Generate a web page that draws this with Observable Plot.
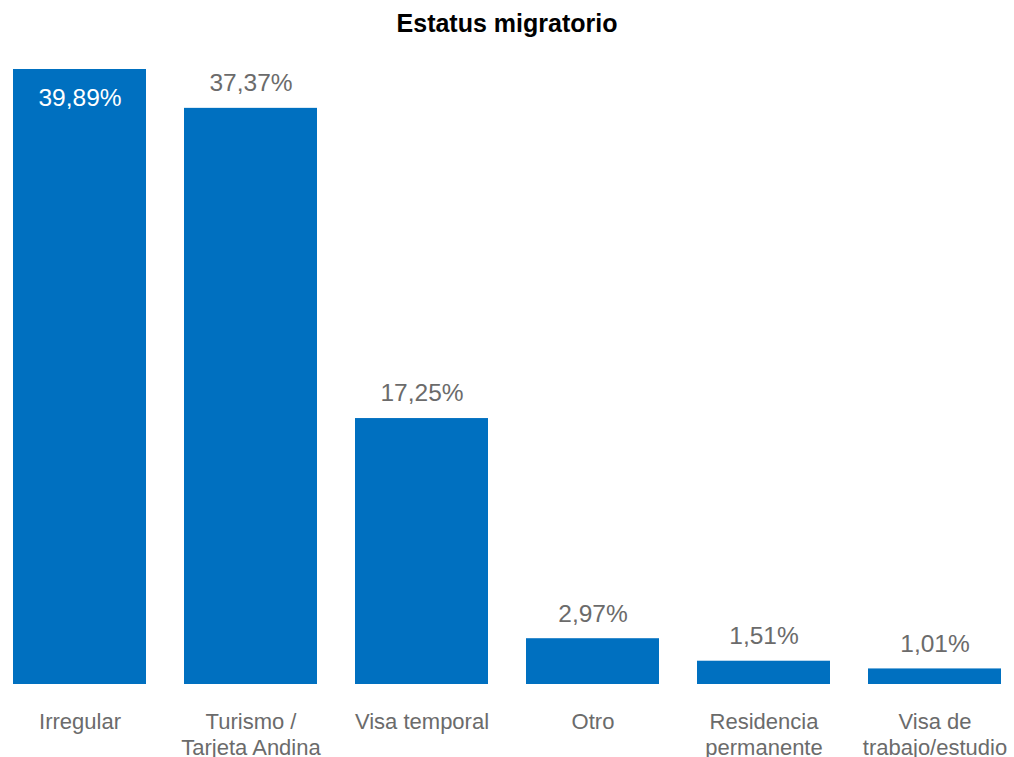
<!DOCTYPE html>
<html>
<head>
<meta charset="utf-8">
<script src="https://cdn.jsdelivr.net/npm/d3@7"></script>
<script src="https://cdn.jsdelivr.net/npm/@observablehq/plot@0.6"></script>
<style>
  html, body { margin: 0; padding: 0; background: #fff; }
  #title { height: 44px; line-height: 46px; text-align: center; font-family: "Liberation Sans", Arial, sans-serif; font-weight: bold; font-size: 25px; color: #000; width: 1014px; }
</style>
</head>
<body>
<div id="title">Estatus migratorio</div>
<div id="chart"></div>
<script>
const categories = ["Irregular", "Turismo /\nTarjeta Andina", "Visa temporal", "Otro", "Residencia\npermanente", "Visa de\ntrabajo/estudio"];
const values = [39.89, 37.37, 17.25, 2.97, 1.51, 1.01];
const valueLabels = ["39,89%", "37,37%", "17,25%", "2,97%", "1,51%", "1,01%"];

const data = categories.map((c, i) => ({category: c, value: values[i], label: valueLabels[i], inside: i === 0}));

const chart = Plot.plot({
  width: 1014,
  height: 713,
  marginTop: 25,
  marginBottom: 73,
  marginLeft: 0,
  marginRight: 0,
  style: {fontFamily: "'Liberation Sans', Arial, sans-serif", background: "#fff"},
  x: {domain: categories, paddingInner: 0.224, paddingOuter: 0.07, axis: null},
  y: {domain: [0, 39.89], axis: null},
  marks: [
    Plot.barY(data, {x: "category", y: "value", fill: "#0070c0"}),
    Plot.text(data.filter(d => !d.inside), {x: "category", y: "value", text: "label", dy: -25, fill: "#6b6b6b", fontSize: 24.5}),
    Plot.text(data.filter(d => d.inside), {x: "category", y: "value", text: "label", dy: 29, fill: "#ffffff", fontSize: 24.5}),
    Plot.text(data, {x: "category", y: () => 0, text: "category", lineAnchor: "top", dy: 26, lineHeight: 1.18, fill: "#6b6b6b", fontSize: 22})
  ]
});
document.getElementById("chart").appendChild(chart);
</script>
</body>
</html>
